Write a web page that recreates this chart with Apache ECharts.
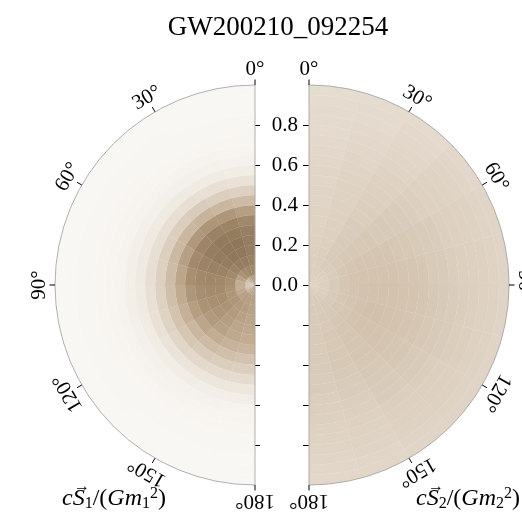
<!DOCTYPE html>
<html><head><meta charset="utf-8">
<script src="https://cdn.jsdelivr.net/npm/echarts@6/dist/echarts.min.js"></script>
<style>html,body{margin:0;padding:0;background:#fff}#c{width:522px;height:522px}</style>
</head><body><div id="c"></div>
<script>
const chartTitle = 'GW200210_092254';
// bin edges: spin magnitude and tilt angle (deg)
const radialEdges = [0,0.05,0.1,0.15,0.2,0.25,0.3,0.35,0.4,0.45,0.5,0.55,0.6,0.65,0.7,0.75,0.8,0.85,0.9,0.95,1.0];
const angleEdges = [0,15,30,45,60,75,90,105,120,135,150,165,180];
// relative posterior density per (magnitude bin, tilt bin), spin 1
const spin1 = [
 [0.74,0.72,0.66,0.58,0.50,0.45,0.45,0.50,0.57,0.63,0.67,0.68],
 [0.86,0.87,0.84,0.78,0.70,0.64,0.63,0.66,0.70,0.72,0.72,0.71],
 [0.92,0.95,0.95,0.90,0.85,0.80,0.78,0.77,0.76,0.74,0.72,0.70],
 [0.95,0.99,1.00,0.96,0.91,0.86,0.83,0.81,0.78,0.74,0.70,0.68],
 [0.95,1.00,1.00,0.97,0.92,0.87,0.83,0.80,0.77,0.72,0.68,0.66],
 [0.93,0.97,0.98,0.95,0.90,0.85,0.81,0.78,0.74,0.70,0.66,0.64],
 [0.86,0.90,0.91,0.88,0.84,0.80,0.76,0.72,0.68,0.64,0.61,0.59],
 [0.72,0.76,0.77,0.75,0.71,0.68,0.65,0.62,0.58,0.55,0.52,0.50],
 [0.55,0.58,0.60,0.58,0.56,0.54,0.52,0.49,0.46,0.43,0.41,0.40],
 [0.38,0.40,0.42,0.41,0.40,0.39,0.38,0.36,0.33,0.31,0.29,0.28],
 [0.22,0.24,0.25,0.25,0.25,0.25,0.24,0.23,0.21,0.19,0.18,0.17],
 [0.12,0.13,0.14,0.14,0.15,0.15,0.14,0.13,0.12,0.11,0.10,0.10],
 [0.06,0.07,0.08,0.08,0.09,0.09,0.09,0.08,0.07,0.06,0.06,0.05],
 [0.03,0.04,0.04,0.05,0.05,0.05,0.05,0.05,0.04,0.04,0.03,0.03],
 [0.02,0.02,0.02,0.03,0.03,0.03,0.03,0.03,0.02,0.02,0.02,0.02],
 [0.01,0.01,0.01,0.02,0.02,0.02,0.02,0.02,0.01,0.01,0.01,0.01],
 [0.01,0.01,0.01,0.01,0.01,0.01,0.01,0.01,0.01,0.01,0.01,0.01],
 [0.00,0.00,0.01,0.01,0.01,0.01,0.01,0.01,0.01,0.00,0.00,0.00],
 [0.00,0.00,0.00,0.00,0.00,0.00,0.00,0.00,0.00,0.00,0.00,0.00],
 [0.00,0.00,0.00,0.00,0.00,0.00,0.00,0.00,0.00,0.00,0.00,0.00]
];
// spin 2
const spin2 = [
 [0.41,0.41,0.40,0.38,0.37,0.36,0.36,0.37,0.39,0.41,0.42,0.42],
 [0.41,0.41,0.41,0.40,0.39,0.39,0.39,0.40,0.41,0.42,0.43,0.43],
 [0.40,0.41,0.42,0.42,0.42,0.43,0.43,0.44,0.44,0.44,0.43,0.43],
 [0.39,0.41,0.43,0.44,0.45,0.46,0.46,0.46,0.46,0.45,0.44,0.43],
 [0.38,0.40,0.43,0.45,0.47,0.48,0.48,0.48,0.47,0.46,0.44,0.43],
 [0.37,0.39,0.43,0.45,0.48,0.49,0.50,0.50,0.49,0.47,0.45,0.43],
 [0.36,0.39,0.42,0.45,0.48,0.49,0.50,0.51,0.50,0.47,0.45,0.43],
 [0.36,0.38,0.42,0.45,0.48,0.49,0.50,0.51,0.50,0.47,0.45,0.43],
 [0.35,0.38,0.41,0.44,0.47,0.49,0.50,0.50,0.49,0.47,0.45,0.43],
 [0.35,0.37,0.41,0.44,0.46,0.48,0.49,0.49,0.48,0.46,0.44,0.42],
 [0.34,0.37,0.40,0.43,0.45,0.47,0.48,0.48,0.47,0.45,0.43,0.42],
 [0.34,0.36,0.39,0.42,0.44,0.46,0.47,0.47,0.46,0.44,0.42,0.41],
 [0.33,0.35,0.38,0.41,0.43,0.44,0.45,0.45,0.44,0.43,0.41,0.40],
 [0.32,0.34,0.37,0.40,0.42,0.43,0.44,0.44,0.43,0.42,0.40,0.39],
 [0.31,0.33,0.35,0.38,0.40,0.41,0.42,0.42,0.41,0.40,0.38,0.37],
 [0.30,0.32,0.34,0.37,0.39,0.40,0.41,0.41,0.40,0.39,0.37,0.36],
 [0.30,0.31,0.33,0.36,0.38,0.39,0.40,0.40,0.39,0.38,0.36,0.35],
 [0.29,0.30,0.32,0.35,0.37,0.38,0.38,0.38,0.38,0.37,0.35,0.34],
 [0.28,0.29,0.31,0.34,0.35,0.36,0.37,0.37,0.36,0.35,0.34,0.33],
 [0.27,0.28,0.30,0.32,0.34,0.35,0.35,0.35,0.35,0.34,0.33,0.32]
];
const angleTicks = [0,30,60,90,120,150,180];
const radialTicks = [-0.8,-0.6,-0.4,-0.2,0,0.2,0.4,0.6,0.8];
const colorScale = ['#f9f7f4','#ebe4da','#dccfbf','#c8b49c','#a88f71','#8f775b'];

const SERIF = '"Liberation Serif", "DejaVu Serif", serif';

function cells(grid) {
  const out = [];
  for (let i = 0; i < grid.length; i++)
    for (let j = 0; j < grid[i].length; j++)
      out.push([radialEdges[i], radialEdges[i+1], angleEdges[j], angleEdges[j+1], grid[i][j]]);
  return out;
}

function renderCell(params, api) {
  const cs = params.coordSys;
  const a = api.coord([api.value(0), api.value(2)]);
  const b = api.coord([api.value(1), api.value(3)]);
  const s1 = -a[3], s2 = -b[3];
  const col = api.visual('color');
  return {
    type: 'sector',
    shape: { cx: cs.cx, cy: cs.cy, r0: a[2], r: b[2],
      startAngle: Math.min(s1, s2), endAngle: Math.max(s1, s2), clockwise: true },
    style: { fill: col, stroke: col, lineWidth: 0.3 }
  };
}

function renderOutline(params, api) {
  const cs = params.coordSys;
  const a = api.coord([api.value(0), 0]);
  const b = api.coord([api.value(0), api.value(1)]);
  const s1 = -a[3], s2 = -b[3];
  return {
    type: 'sector',
    shape: { cx: cs.cx, cy: cs.cy, r0: 0, r: a[2],
      startAngle: Math.min(s1, s2), endAngle: Math.max(s1, s2), clockwise: true },
    style: { fill: 'none', stroke: '#a8a8a8', lineWidth: 0.9 }
  };
}

function makeTickRenderer(sign) {
  return function (params, api) {
    const cs = params.coordSys;
    const deg = api.value(1);
    const p = api.coord([api.value(0), deg]);
    const r = p[2], ang = p[3];
    const c = Math.cos(ang), s = Math.sin(ang);
    const lr = r + 16;
    return {
      type: 'group',
      children: [
        { type: 'line', shape: { x1: cs.cx + r * c, y1: cs.cy - r * s, x2: cs.cx + (r + 5.5) * c, y2: cs.cy - (r + 5.5) * s },
          style: { stroke: '#000', lineWidth: 1 } },
        { type: 'text', x: cs.cx + lr * c, y: cs.cy - lr * s, rotation: sign * deg * Math.PI / 180,
          style: { text: deg + '°', fontFamily: SERIF, fontSize: 21, fill: '#000', align: 'center', verticalAlign: 'middle' } }
      ]
    };
  };
}

const chart = echarts.init(document.getElementById('c'), null, { renderer: 'canvas' });
const base = { fontFamily: SERIF, color: '#000', fontWeight: 'normal' };
const labelRich = {
  i: Object.assign({}, base, { fontStyle: 'italic', fontSize: 24 }),
  n: Object.assign({}, base, { fontSize: 24 }),
  sub: Object.assign({}, base, { fontSize: 16, padding: [10, 0, 0, 0] }),
  sup: Object.assign({}, base, { fontSize: 16, padding: [0, 0, 10, 0] })
};
const arrowStyle = { fontFamily: SERIF, fontSize: 16, fontWeight: 'normal', color: '#000' };
chart.setOption({
  animation: false,
  backgroundColor: '#ffffff',
  title: [
    { text: chartTitle, left: 273, top: 9, textAlign: 'center',
      textStyle: { fontFamily: SERIF, fontSize: 27, fontWeight: 'normal', color: '#000' } },
    { text: '{i|cS}{sub|1}{n|/(}{i|Gm}{sub|1}{sup|2}{n|)}', left: 57, top: 481, textAlign: 'left',
      textStyle: { fontWeight: 'normal', rich: labelRich } },
    { text: '{i|cS}{sub|2}{n|/(}{i|Gm}{sub|2}{sup|2}{n|)}', left: 411, top: 481, textAlign: 'left',
      textStyle: { fontWeight: 'normal', rich: labelRich } },
    { text: '→', left: 77, top: 474, textAlign: 'center', textStyle: arrowStyle },
    { text: '→', left: 431, top: 474, textAlign: 'center', textStyle: arrowStyle }
  ],
  visualMap: { show: false, type: 'continuous', min: 0, max: 1, dimension: 4, seriesIndex: [0, 1],
    inRange: { color: colorScale } },
  polar: [ { center: [255, 285], radius: 200 }, { center: [309, 285], radius: 200 } ],
  angleAxis: [
    { polarIndex: 0, type: 'value', min: 0, max: 180, startAngle: 90, endAngle: 270, clockwise: false, show: false },
    { polarIndex: 1, type: 'value', min: 0, max: 180, startAngle: 90, endAngle: -90, clockwise: true, show: false }
  ],
  radiusAxis: [
    { polarIndex: 0, type: 'value', min: 0, max: 1, show: false },
    { polarIndex: 1, type: 'value', min: 0, max: 1, show: false }
  ],
  grid: { left: 255, width: 54, top: 125, height: 320 },
  xAxis: { type: 'value', show: false, min: 0, max: 1 },
  yAxis: [
    { type: 'value', position: 'left', min: -0.8, max: 0.8, interval: 0.2,
      axisLine: { show: false }, splitLine: { show: false },
      axisTick: { show: true, inside: true, length: 5, lineStyle: { color: '#000', width: 1 } },
      axisLabel: { show: false } },
    { type: 'value', position: 'right', min: -0.8, max: 0.8, interval: 0.2,
      axisLine: { show: false }, splitLine: { show: false },
      axisTick: { show: true, inside: true, length: 6, lineStyle: { color: '#000', width: 1 } },
      axisLabel: { show: true, inside: true, margin: 11, fontFamily: SERIF, fontSize: 21, color: '#000',
        formatter: v => (v > -1e-6 ? Math.abs(v).toFixed(1) : '') } }
  ],
  series: [
    { type: 'custom', coordinateSystem: 'polar', polarIndex: 0, data: cells(spin1), renderItem: renderCell, silent: true },
    { type: 'custom', coordinateSystem: 'polar', polarIndex: 1, data: cells(spin2), renderItem: renderCell, silent: true },
    { type: 'custom', coordinateSystem: 'polar', polarIndex: 0, data: [[1, 180]], renderItem: renderOutline, silent: true, z: 5 },
    { type: 'custom', coordinateSystem: 'polar', polarIndex: 1, data: [[1, 180]], renderItem: renderOutline, silent: true, z: 5 },
    { type: 'custom', coordinateSystem: 'polar', polarIndex: 0, data: angleTicks.map(a => [1, a]), renderItem: makeTickRenderer(1), silent: true, z: 6 },
    { type: 'custom', coordinateSystem: 'polar', polarIndex: 1, data: angleTicks.map(a => [1, a]), renderItem: makeTickRenderer(-1), silent: true, z: 6 }
  ]
});
</script></body></html>
